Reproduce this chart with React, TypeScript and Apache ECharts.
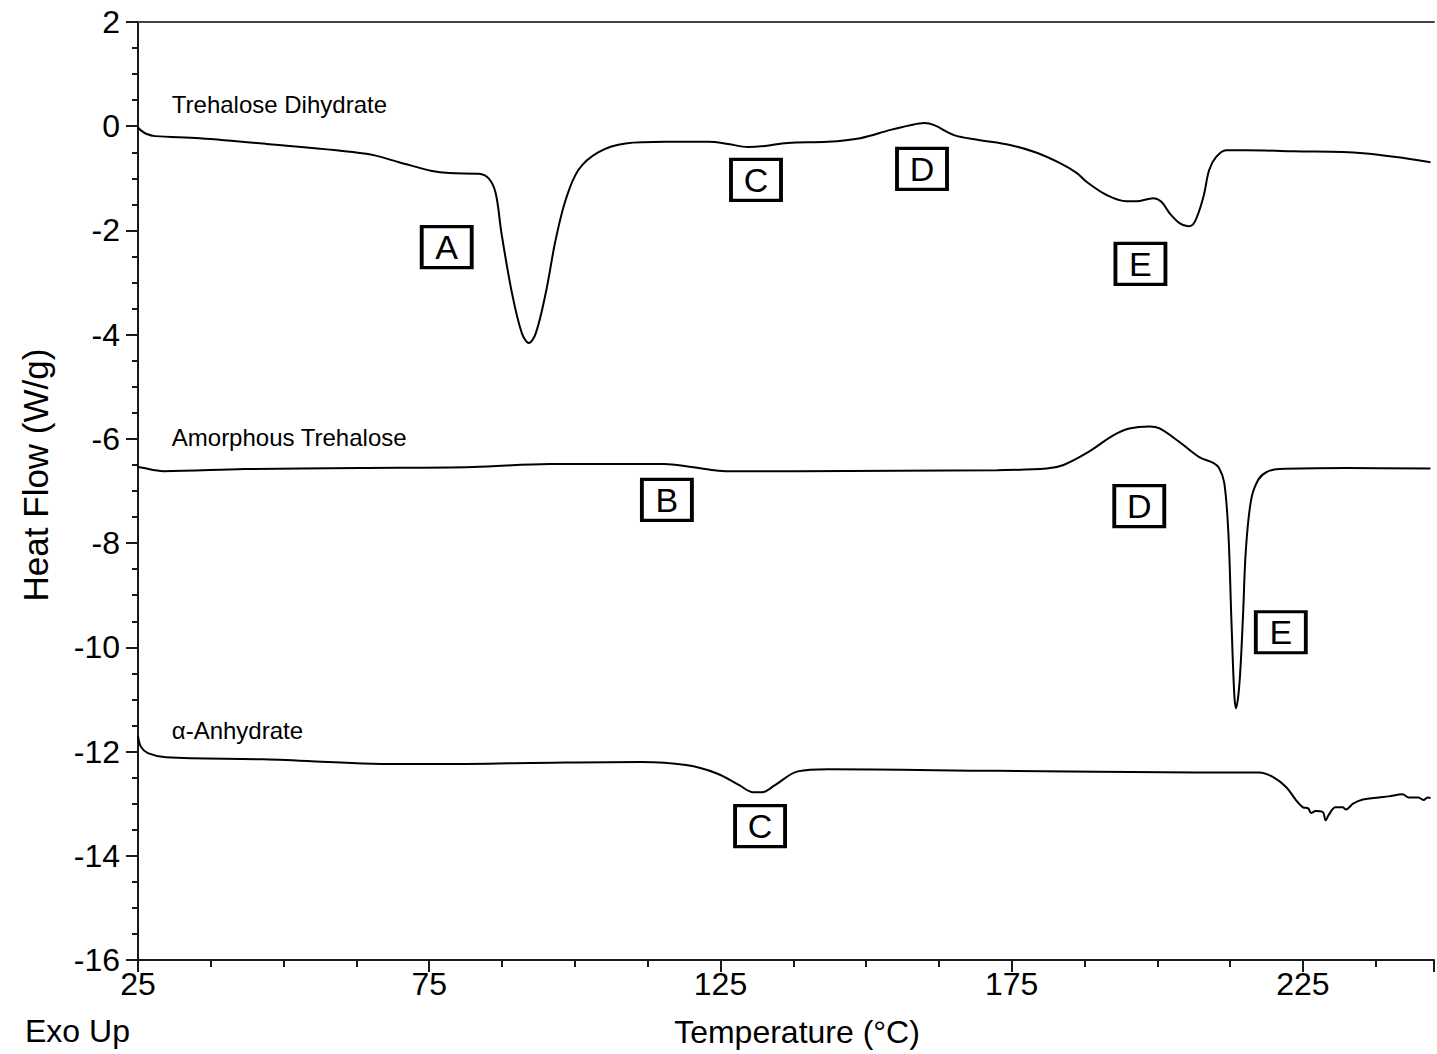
import React, { useEffect, useRef } from "react";
import * as echarts from "echarts";

const FONT = "'Liberation Sans', Arial, Helvetica, sans-serif";

// Trehalose Dihydrate
const dihydrateT = [25.0, 25.5, 26.5, 27.9, 35.6, 47.1, 64.2, 69.8, 75.5, 78.4, 83.5, 85.2, 86.4, 87.4, 89.2, 90.9, 92.1, 93.3, 95.0, 96.7, 98.4, 100.6, 104.0, 108.7, 115.5, 122.9, 126.3, 129.7, 132.6, 136.5, 143.4, 149.0, 154.2, 157.6, 160.0, 161.7, 165.1, 169.1, 174.7, 179.3, 183.3, 186.2, 187.9, 191.3, 194.7, 196.4, 199.3, 200.7, 202.1, 203.8, 205.3, 206.4, 207.9, 208.9, 210.1, 211.8, 215.2, 223.3, 235.3, 246.9];
const dihydrateHF = [-0.02, -0.08, -0.15, -0.19, -0.23, -0.34, -0.53, -0.69, -0.86, -0.9, -0.91, -1.0, -1.28, -2.05, -3.2, -3.97, -4.16, -3.97, -3.2, -2.18, -1.42, -0.84, -0.5, -0.33, -0.3, -0.3, -0.34, -0.4, -0.38, -0.32, -0.3, -0.23, -0.07, 0.02, 0.06, 0.02, -0.17, -0.26, -0.36, -0.51, -0.71, -0.9, -1.07, -1.32, -1.44, -1.44, -1.38, -1.45, -1.67, -1.86, -1.92, -1.84, -1.36, -0.84, -0.59, -0.46, -0.46, -0.48, -0.52, -0.69];

// Amorphous Trehalose
const amorphousT = [25.0, 25.5, 29.4, 43.3, 63.0, 82.5, 95.7, 115.3, 120.0, 123.9, 126.3, 138.3, 155.4, 172.5, 181.0, 183.9, 187.9, 192.5, 195.2, 198.7, 200.4, 203.8, 207.2, 209.6, 210.6, 211.5, 212.2, 212.7, 213.2, 213.5, 214.1, 214.7, 215.2, 216.1, 217.3, 218.7, 220.9, 232.4, 246.9];
const amorphousHF = [-6.54, -6.55, -6.62, -6.58, -6.56, -6.54, -6.48, -6.48, -6.54, -6.6, -6.62, -6.62, -6.61, -6.6, -6.57, -6.5, -6.27, -5.93, -5.8, -5.76, -5.8, -6.06, -6.35, -6.46, -6.56, -6.85, -7.81, -9.42, -10.88, -11.17, -10.69, -9.42, -8.13, -7.17, -6.79, -6.64, -6.58, -6.56, -6.57];

// alpha-Anhydrate
const anhydrateT = [25.0, 25.5, 26.7, 29.8, 46.6, 69.5, 77.2, 92.4, 111.4, 119.1, 124.4, 128.3, 130.6, 132.1, 134.3, 138.3, 143.4, 172.5, 206.7, 217.5, 219.9, 222.1, 223.8, 225.0, 225.9, 226.4, 227.2, 228.4, 228.9, 229.4, 230.6, 231.8, 232.4, 233.6, 235.3, 238.0, 239.7, 242.1, 243.1, 244.8, 245.7, 246.4, 246.9];
const anhydrateHF = [-11.7, -11.91, -12.03, -12.11, -12.15, -12.24, -12.24, -12.22, -12.2, -12.26, -12.42, -12.65, -12.78, -12.78, -12.65, -12.38, -12.34, -12.37, -12.4, -12.4, -12.49, -12.68, -12.93, -13.07, -13.09, -13.18, -13.14, -13.16, -13.32, -13.22, -13.07, -13.07, -13.11, -13.0, -12.92, -12.88, -12.86, -12.82, -12.88, -12.88, -12.93, -12.88, -12.89];

// Curve names and where their labels sit
const curveNames = ["Trehalose Dihydrate", "Amorphous Trehalose", "α-Anhydrate"];
const curveLabelT = [30.8, 30.8, 30.8];
const curveLabelHF = [0.41, -5.97, -11.59];

// Boxed event letters
const eventLetters = ["A", "C", "D", "E", "B", "D", "E", "C"];
const eventT = [78.0, 131.1, 159.6, 197.1, 115.8, 196.9, 221.2, 131.8];
const eventHF = [-2.32, -1.03, -0.82, -2.64, -7.17, -7.29, -9.71, -13.43];

// Axes
const xMin = 25;
const xMax = 247.5;
const xLabelStep = 50;
const yMin = -16;
const yMax = 2;
const yStep = 2;

const zip = (a: number[], b: number[]) => a.map((v, i) => [v, b[i]]);

export default function App() {
  const ref = useRef<HTMLDivElement>(null);
  useEffect(() => {
    if (!ref.current) return;
    const chart = echarts.init(ref.current, null, { renderer: "svg" });
    const axisColor = "#1a1a1a";
    const lineStyle = { color: "#000", width: 2 };
    const curves = [
      zip(dihydrateT, dihydrateHF),
      zip(amorphousT, amorphousHF),
      zip(anhydrateT, anhydrateHF),
    ];
    chart.setOption({
      animation: false,
      backgroundColor: "#fff",
      textStyle: { fontFamily: FONT },
      grid: { left: 138, right: 0, top: 22, bottom: 94 },
      xAxis: [
        {
          type: "value",
          min: xMin,
          max: xMax,
          interval: xLabelStep,
          position: "bottom",
          axisLine: { show: true, onZero: false, lineStyle: { color: axisColor, width: 2 } },
          axisTick: { show: true, length: 12, lineStyle: { color: axisColor, width: 2 } },
          minorTick: { show: true, splitNumber: 4, length: 7, lineStyle: { color: axisColor, width: 2 } },
          splitLine: { show: false },
          axisLabel: {
            margin: 8,
            fontSize: 32,
            color: "#000",
            fontFamily: FONT,
            formatter: (v: number) => (Math.abs(((v - xMin) % xLabelStep)) < 1e-6 ? String(v) : ""),
          },
        },
        {
          type: "value",
          min: xMin,
          max: xMax,
          position: "top",
          axisLine: { show: true, onZero: false, lineStyle: { color: "#444", width: 2 } },
          axisTick: { show: false },
          axisLabel: { show: false },
          splitLine: { show: false },
        },
      ],
      yAxis: {
        type: "value",
        min: yMin,
        max: yMax,
        interval: yStep,
        axisLine: { show: true, onZero: false, lineStyle: { color: axisColor, width: 2 } },
        axisTick: { show: true, length: 12, lineStyle: { color: axisColor, width: 2 } },
        minorTick: { show: true, splitNumber: 4, length: 6, lineStyle: { color: axisColor, width: 2 } },
        splitLine: { show: false },
        axisLabel: { margin: 18, fontSize: 32, color: "#000", fontFamily: FONT },
      },
      graphic: [
        {
          type: "text",
          left: 25,
          top: 1015,
          style: { text: "Exo Up", font: `32px ${FONT}`, fill: "#000" },
        },
        {
          type: "text",
          x: 797,
          y: 1032,
          style: { text: "Temperature (°C)", font: `32px ${FONT}`, fill: "#000", align: "center", verticalAlign: "middle" },
        },
        {
          type: "text",
          x: 35,
          y: 475,
          rotation: Math.PI / 2,
          style: { text: "Heat Flow (W/g)", font: `35px ${FONT}`, fill: "#000", align: "center", verticalAlign: "middle" },
        },
      ],
      series: [
        ...curves.map((d, i) => ({
          type: "line",
          name: curveNames[i],
          data: d,
          smooth: 0.35,
          symbol: "none",
          lineStyle,
          z: 2,
        })),
        {
          type: "scatter",
          data: curveNames.map((n, i) => ({ value: [curveLabelT[i], curveLabelHF[i]], name: n })),
          symbolSize: 0,
          itemStyle: { opacity: 1 },
          label: {
            show: true,
            position: "right",
            distance: 0,
            formatter: (p: any) => p.name,
            fontSize: 24,
            color: "#000",
            fontFamily: FONT,
          },
          z: 3,
        },
        {
          type: "scatter",
          data: eventLetters.map((l, i) => ({ value: [eventT[i], eventHF[i]], name: l })),
          symbol: "rect",
          symbolSize: [50, 41],
          itemStyle: { color: "#fff", borderColor: "#000", borderWidth: 3.5, opacity: 1 },
          label: {
            show: true,
            position: "inside",
            formatter: (p: any) => p.name,
            fontSize: 34,
            color: "#000",
            fontFamily: FONT,
          },
          z: 4,
        },
      ],
    });
    return () => chart.dispose();
  }, []);
  return (
    <div
      ref={ref}
      style={{ position: "fixed", left: 0, top: 0, width: 1437, height: 1054, background: "#fff" }}
    />
  );
}
